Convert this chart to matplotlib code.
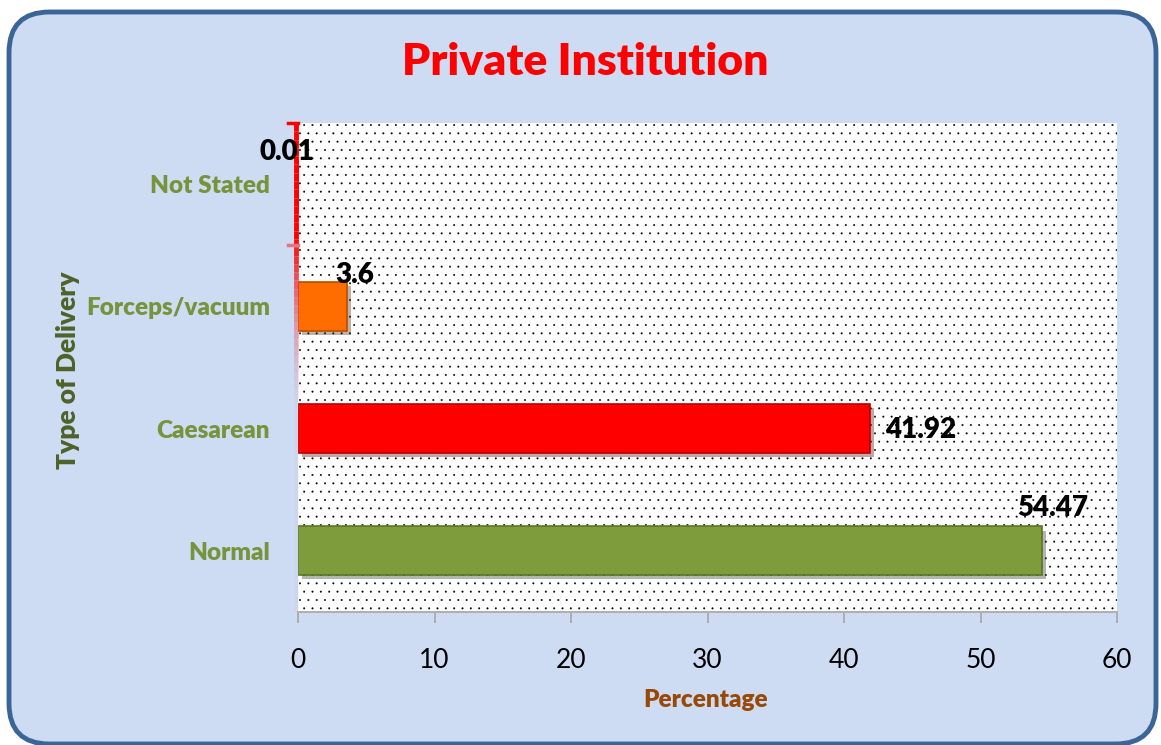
"""
Private institution deliveries: share of each delivery type (horizontal bars).
"""
import matplotlib.pyplot as plt
import matplotlib.patheffects as pe
import numpy as np
from matplotlib.collections import LineCollection
from matplotlib.patches import FancyBboxPatch, Rectangle
from matplotlib.transforms import blended_transform_factory

plt.rcParams["font.family"] = ["Lato", "DejaVu Sans"]
plt.rcParams["hatch.linewidth"] = 0.2

categories = ["Normal", "Caesarean", "Forceps/vacuum", "Not Stated"]
percentages = [54.47, 41.92, 3.6, 0.01]
value_labels = ["54.47", "41.92", "3.6", "0.01"]
x_ticks = [0, 10, 20, 30, 40, 50, 60]

bar_colors = ["#7f9c3d", "#ff0000", "#ff6d00", "#ff0000"]
edge_colors = ["#5c7528", "#b80000", "#b84e00", "#b80000"]
# label offsets from the bar end, in pixels (dx, dy, ha)
label_offsets = [(11, 43, "center"), (15, -1, "left"),
                 (8, 31, "center"), (-11, 32, "center")]

fig = plt.figure(figsize=(11.61, 7.45), dpi=100)
fig.patch.set_facecolor("white")

# rounded light-blue panel behind everything
panel = FancyBboxPatch((9 / 1161, 1 / 745), 1147 / 1161, 732 / 745,
                       boxstyle="round,pad=0,rounding_size=0.035",
                       transform=fig.transFigure, facecolor="#cddcf2",
                       edgecolor="#3b6497", linewidth=3.5, zorder=-5,
                       mutation_aspect=1161 / 745)
fig.patches.append(panel)

ax = fig.add_axes([298 / 1161, 1 - 612 / 745, 819 / 1161, 489 / 745])
ax.set_facecolor("none")
ax.set_zorder(2)

# dotted plot area
ax.add_patch(Rectangle((0, 0), 1, 1, transform=ax.transAxes,
                       facecolor="white", edgecolor="black", hatch="..",
                       linewidth=0, zorder=0))

y = np.arange(len(categories))
bars = ax.barh(y, percentages, height=0.4, color=bar_colors,
               edgecolor=edge_colors, linewidth=1.2, zorder=3)
for b in bars:
    b.set_path_effects([pe.SimplePatchShadow(offset=(3, -3), alpha=0.35),
                        pe.Normal()])

for yi, val, txt, (dx, dy, ha) in zip(y, percentages, value_labels,
                                      label_offsets):
    ax.annotate(txt, (val, yi), xytext=(dx, dy), textcoords="offset pixels",
                ha=ha, va="center", fontsize=20, fontweight="heavy",
                color="black", zorder=5)

ax.set_xlim(0, 60)
ax.set_ylim(-0.5, 3.5)
ax.set_xticks(x_ticks)
ax.set_xticklabels([str(t) for t in x_ticks], fontsize=19)
ax.set_yticks(y)
ax.set_yticklabels(categories, fontsize=17.5, fontweight="heavy",
                   color="#77933c")
ax.tick_params(axis="x", length=8, width=1.2, color="#a6a6a6",
               direction="out", pad=18)
ax.tick_params(axis="y", length=0, pad=20)

for side in ["top", "right", "left"]:
    ax.spines[side].set_visible(False)
ax.spines["bottom"].set_color("#b0b0b0")
ax.spines["bottom"].set_linewidth(1.5)

# left axis line fading from red to nothing
trans = blended_transform_factory(ax.transAxes, ax.transData)
ys = np.linspace(3.5, -0.5, 60)
segs = [[(-0.002, ys[i]), (-0.002, ys[i + 1])] for i in range(len(ys) - 1)]
cols = []
for i in range(len(ys) - 1):
    t = min(max((2.6 - ys[i]) / 1.4, 0), 1)
    a = 1.0 - 0.85 * t if ys[i] > 1.2 else 0.15
    cols.append((1.0 - 0.2 * t, 0.0 + 0.75 * t, 0.0 + 0.85 * t, a))
ax.add_collection(LineCollection(segs, colors=cols, linewidths=3.5,
                                 transform=trans, clip_on=False, zorder=4))
for yt, c in [(3.5, "#ff0000"), (2.5, "#ec7080")]:
    ax.plot([-0.012, 0], [yt, yt], color=c, lw=2.5, transform=trans,
            clip_on=False, zorder=4)

ax.set_xlabel("Percentage", fontsize=17.5, fontweight="heavy",
              color="#984807")
ax.xaxis.set_label_coords(0.498, -0.158)
ax.set_ylabel("Type of Delivery", fontsize=19, fontweight="heavy",
              color="#4f6228")
ax.yaxis.set_label_coords(-0.266, 0.495)

fig.text(585 / 1161, 1 - 62 / 745, "Private Institution", ha="center",
         va="center", fontsize=32, fontweight="heavy", color="#ff0000")

fig.savefig("out.png", dpi=100)
